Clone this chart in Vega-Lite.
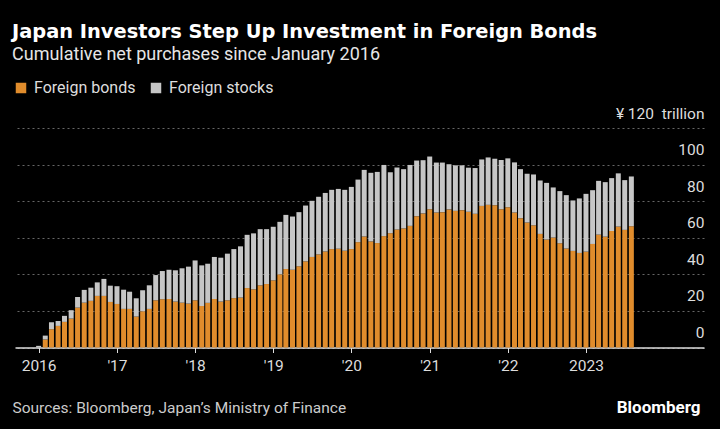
{
  "$schema": "https://vega.github.io/schema/vega-lite/v6.json",
  "autosize": "none",
  "width": 689,
  "height": 219.5,
  "padding": {"left": 15, "top": 128, "right": 16, "bottom": 81.5},
  "background": "#000000",
  "title": {
    "text": "Japan Investors Step Up Investment in Foreign Bonds",
    "subtitle": "Cumulative net purchases since January 2016",
    "anchor": "start",
    "frame": "group",
    "dx": -3,
    "offset": 15,
    "font": "DejaVu Sans",
    "fontSize": 19.4,
    "fontWeight": "bold",
    "color": "#ffffff",
    "subtitleFont": "Roboto",
    "subtitleFontSize": 18,
    "subtitleColor": "#e6e6e6",
    "subtitlePadding": 4
  },
  "data": {
    "values": [
      {"m":"2016-01","Foreign bonds":0,"Foreign stocks":0.9},
      {"m":"2016-02","Foreign bonds":4.4,"Foreign stocks":2.1},
      {"m":"2016-03","Foreign bonds":10,"Foreign stocks":3.8},
      {"m":"2016-04","Foreign bonds":11.8,"Foreign stocks":2.7},
      {"m":"2016-05","Foreign bonds":14,"Foreign stocks":3.3},
      {"m":"2016-06","Foreign bonds":15.8,"Foreign stocks":4.6},
      {"m":"2016-07","Foreign bonds":21.8,"Foreign stocks":5.8},
      {"m":"2016-08","Foreign bonds":24.5,"Foreign stocks":7},
      {"m":"2016-09","Foreign bonds":25.5,"Foreign stocks":7.2},
      {"m":"2016-10","Foreign bonds":28.2,"Foreign stocks":7.4},
      {"m":"2016-11","Foreign bonds":28.2,"Foreign stocks":9.3},
      {"m":"2016-12","Foreign bonds":24.9,"Foreign stocks":8.9},
      {"m":"2017-01","Foreign bonds":23.8,"Foreign stocks":9.7},
      {"m":"2017-02","Foreign bonds":21.1,"Foreign stocks":10.5},
      {"m":"2017-03","Foreign bonds":21.1,"Foreign stocks":9.4},
      {"m":"2017-04","Foreign bonds":16.9,"Foreign stocks":10},
      {"m":"2017-05","Foreign bonds":19.8,"Foreign stocks":11.5},
      {"m":"2017-06","Foreign bonds":21.1,"Foreign stocks":12.9},
      {"m":"2017-07","Foreign bonds":25.8,"Foreign stocks":13.8},
      {"m":"2017-08","Foreign bonds":26.4,"Foreign stocks":15.4},
      {"m":"2017-09","Foreign bonds":26.5,"Foreign stocks":16},
      {"m":"2017-10","Foreign bonds":25.1,"Foreign stocks":17.1},
      {"m":"2017-11","Foreign bonds":24.5,"Foreign stocks":18.8},
      {"m":"2017-12","Foreign bonds":24,"Foreign stocks":20.2},
      {"m":"2018-01","Foreign bonds":25.8,"Foreign stocks":21.8},
      {"m":"2018-02","Foreign bonds":22.7,"Foreign stocks":22.2},
      {"m":"2018-03","Foreign bonds":24.4,"Foreign stocks":21.4},
      {"m":"2018-04","Foreign bonds":26.5,"Foreign stocks":23},
      {"m":"2018-05","Foreign bonds":25.1,"Foreign stocks":24},
      {"m":"2018-06","Foreign bonds":25.8,"Foreign stocks":25.5},
      {"m":"2018-07","Foreign bonds":27,"Foreign stocks":26.8},
      {"m":"2018-08","Foreign bonds":27.3,"Foreign stocks":28},
      {"m":"2018-09","Foreign bonds":32.5,"Foreign stocks":29.1},
      {"m":"2018-10","Foreign bonds":31.8,"Foreign stocks":30.6},
      {"m":"2018-11","Foreign bonds":34,"Foreign stocks":30.7},
      {"m":"2018-12","Foreign bonds":34.7,"Foreign stocks":30},
      {"m":"2019-01","Foreign bonds":36.7,"Foreign stocks":29.3},
      {"m":"2019-02","Foreign bonds":40,"Foreign stocks":28.7},
      {"m":"2019-03","Foreign bonds":42.9,"Foreign stocks":29.6},
      {"m":"2019-04","Foreign bonds":42.5,"Foreign stocks":29.1},
      {"m":"2019-05","Foreign bonds":44.4,"Foreign stocks":29.6},
      {"m":"2019-06","Foreign bonds":47.1,"Foreign stocks":30.5},
      {"m":"2019-07","Foreign bonds":49.5,"Foreign stocks":30.7},
      {"m":"2019-08","Foreign bonds":50.9,"Foreign stocks":31.5},
      {"m":"2019-09","Foreign bonds":52.5,"Foreign stocks":32},
      {"m":"2019-10","Foreign bonds":53.8,"Foreign stocks":32.4},
      {"m":"2019-11","Foreign bonds":54,"Foreign stocks":32.7},
      {"m":"2019-12","Foreign bonds":52.9,"Foreign stocks":33.3},
      {"m":"2020-01","Foreign bonds":53.8,"Foreign stocks":34},
      {"m":"2020-02","Foreign bonds":57.6,"Foreign stocks":34.2},
      {"m":"2020-03","Foreign bonds":60.7,"Foreign stocks":36.4},
      {"m":"2020-04","Foreign bonds":58,"Foreign stocks":37.5},
      {"m":"2020-05","Foreign bonds":57.1,"Foreign stocks":38.9},
      {"m":"2020-06","Foreign bonds":60.9,"Foreign stocks":38.9},
      {"m":"2020-07","Foreign bonds":62.5,"Foreign stocks":33.3},
      {"m":"2020-08","Foreign bonds":64.5,"Foreign stocks":33.9},
      {"m":"2020-09","Foreign bonds":65.1,"Foreign stocks":32.4},
      {"m":"2020-10","Foreign bonds":66.5,"Foreign stocks":33.3},
      {"m":"2020-11","Foreign bonds":71.8,"Foreign stocks":30.4},
      {"m":"2020-12","Foreign bonds":73.3,"Foreign stocks":29.1},
      {"m":"2021-01","Foreign bonds":75.6,"Foreign stocks":28.8},
      {"m":"2021-02","Foreign bonds":73.8,"Foreign stocks":27.3},
      {"m":"2021-03","Foreign bonds":74,"Foreign stocks":27.1},
      {"m":"2021-04","Foreign bonds":75.5,"Foreign stocks":24.7},
      {"m":"2021-05","Foreign bonds":74.7,"Foreign stocks":24.9},
      {"m":"2021-06","Foreign bonds":75.1,"Foreign stocks":24.5},
      {"m":"2021-07","Foreign bonds":74.2,"Foreign stocks":24.1},
      {"m":"2021-08","Foreign bonds":73.1,"Foreign stocks":25},
      {"m":"2021-09","Foreign bonds":77.4,"Foreign stocks":25.4},
      {"m":"2021-10","Foreign bonds":78,"Foreign stocks":25.9},
      {"m":"2021-11","Foreign bonds":77.8,"Foreign stocks":25.4},
      {"m":"2021-12","Foreign bonds":75.6,"Foreign stocks":26.9},
      {"m":"2022-01","Foreign bonds":76.7,"Foreign stocks":26.7},
      {"m":"2022-02","Foreign bonds":73.8,"Foreign stocks":27.4},
      {"m":"2022-03","Foreign bonds":70.7,"Foreign stocks":26.8},
      {"m":"2022-04","Foreign bonds":68.3,"Foreign stocks":26.7},
      {"m":"2022-05","Foreign bonds":66.8,"Foreign stocks":27.8},
      {"m":"2022-06","Foreign bonds":62.1,"Foreign stocks":29.2},
      {"m":"2022-07","Foreign bonds":59,"Foreign stocks":31},
      {"m":"2022-08","Foreign bonds":60.1,"Foreign stocks":27.4},
      {"m":"2022-09","Foreign bonds":57,"Foreign stocks":28.5},
      {"m":"2022-10","Foreign bonds":54.1,"Foreign stocks":29.2},
      {"m":"2022-11","Foreign bonds":52.8,"Foreign stocks":27.6},
      {"m":"2022-12","Foreign bonds":51.7,"Foreign stocks":29.8},
      {"m":"2023-01","Foreign bonds":52.4,"Foreign stocks":31.6},
      {"m":"2023-02","Foreign bonds":56.6,"Foreign stocks":29.4},
      {"m":"2023-03","Foreign bonds":61.7,"Foreign stocks":29.4},
      {"m":"2023-04","Foreign bonds":60.6,"Foreign stocks":29.8},
      {"m":"2023-05","Foreign bonds":63.7,"Foreign stocks":28.9},
      {"m":"2023-06","Foreign bonds":66.1,"Foreign stocks":29.1},
      {"m":"2023-07","Foreign bonds":64.3,"Foreign stocks":27.2},
      {"m":"2023-08","Foreign bonds":66.3,"Foreign stocks":27.2}
    ],
    "format": {"parse": {"m": "date:'%Y-%m'"}}
  },
  "transform": [
    {"fold": ["Foreign bonds", "Foreign stocks"], "as": ["type", "value"]}
  ],
  "mark": {"type": "bar", "size": 5},
  "encoding": {
    "x": {
      "field": "m",
      "type": "temporal",
      "scale": {
        "domain": [
          {"year": 2015, "month": 10, "date": 6},
          {"year": 2024, "month": 6, "date": 12}
        ]
      },
      "axis": {
        "values": [
          {"year": 2016, "month": 1, "date": 1},
          {"year": 2017, "month": 1, "date": 1},
          {"year": 2018, "month": 1, "date": 1},
          {"year": 2019, "month": 1, "date": 1},
          {"year": 2020, "month": 1, "date": 1},
          {"year": 2021, "month": 1, "date": 1},
          {"year": 2022, "month": 1, "date": 1},
          {"year": 2023, "month": 1, "date": 1}
        ],
        "labelExpr": "(year(datum.value) == 2016 || year(datum.value) == 2023) ? timeFormat(datum.value, '%Y') : \"'\" + timeFormat(datum.value, '%y')",
        "grid": false,
        "domainColor": "#dddddd",
        "domainWidth": 1.5,
        "tickColor": "#dddddd",
        "tickWidth": 1,
        "tickSize": 5,
        "labelColor": "#dddddd",
        "labelFont": "Roboto",
        "labelFontSize": 15.5,
        "labelPadding": 6,
        "labelFlush": false,
        "labelOverlap": false,
        "title": "Sources: Bloomberg, Japan\u2019s Ministry of Finance",
        "titleFont": "Roboto",
        "titleFontSize": 15.5,
        "titleFontWeight": "normal",
        "titleColor": "#cccccc",
        "titleAnchor": "start",
        "titleAlign": "left",
        "titleBaseline": "alphabetic",
        "titleX": -3,
        "titleY": 65
      }
    },
    "y": {
      "field": "value",
      "type": "quantitative",
      "stack": "zero",
      "scale": {"domain": [0, 120], "nice": false},
      "axis": {
        "orient": "right",
        "values": [0, 20, 40, 60, 80, 100, 120],
        "labelExpr": "datum.value == 120 ? '\u00a5 120\u00a0 trillion' : datum.label",
        "domain": false,
        "ticks": false,
        "grid": true,
        "gridColor": "#666666",
        "gridDash": [2, 3],
        "gridWidth": 1,
        "labelAlign": "right",
        "labelBaseline": "middle",
        "labelPadding": 0,
        "labelOffset": -15,
        "labelColor": "#dddddd",
        "labelFont": "Roboto",
        "labelFontSize": 15.5,
        "title": "Bloomberg",
        "titleAngle": 0,
        "titleAlign": "right",
        "titleBaseline": "alphabetic",
        "titleX": -4,
        "titleY": 284,
        "titleFont": "Roboto",
        "titleFontSize": 17,
        "titleFontWeight": "bold",
        "titleColor": "#ffffff"
      }
    },
    "color": {
      "field": "type",
      "type": "nominal",
      "scale": {
        "domain": ["Foreign bonds", "Foreign stocks"],
        "range": ["#E08C2C", "#C6C6C6"]
      },
      "legend": {
        "orient": "none",
        "legendX": -2,
        "legendY": -48,
        "direction": "horizontal",
        "title": null,
        "symbolType": "square",
        "symbolSize": 110,
        "symbolStrokeWidth": 0,
        "symbolOpacity": 1,
        "labelFont": "Roboto",
        "labelFontSize": 16,
        "labelColor": "#dddddd",
        "labelOffset": 5,
        "columnPadding": 12
      }
    },
    "order": {"field": "type", "sort": "ascending"}
  },
  "config": {
    "view": {"stroke": null}
  }
}
